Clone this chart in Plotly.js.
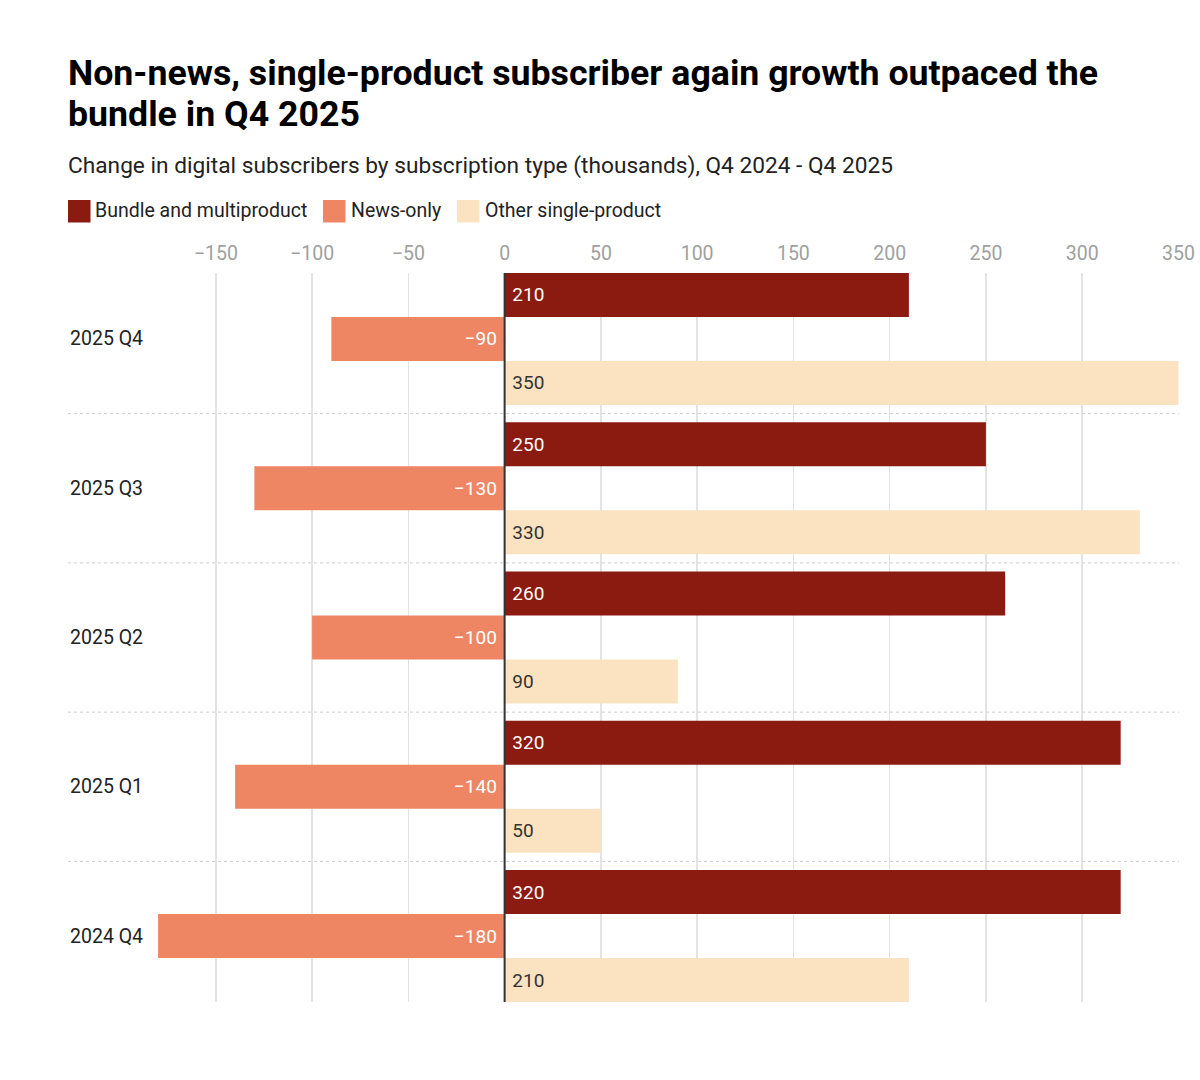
<!DOCTYPE html>
<html>
<head>
<meta charset="utf-8">
<script src="https://cdn.plot.ly/plotly-3.0.1.min.js"></script>
<style>
  html, body { margin: 0; padding: 0; background: #fff; }
  #chart { width: 1200px; height: 1080px; }
</style>
</head>
<body>
<div id="chart"></div>
<script>
// ---- Data ----
const quarters = ["2025 Q4", "2025 Q3", "2025 Q2", "2025 Q1", "2024 Q4"];
const seriesNames = ["Bundle and multiproduct", "News-only", "Other single-product"];
const bundle = [210, 250, 260, 320, 320];
const newsOnly = [-90, -130, -100, -140, -180];
const otherSingle = [350, 330, 90, 50, 210];
const xTicks = [-150, -100, -50, 0, 50, 100, 150, 200, 250, 300, 350];
const titleLines = ["Non-news, single-product subscriber again growth outpaced the", "bundle in Q4 2025"];
const subtitle = "Change in digital subscribers by subscription type (thousands), Q4 2024 - Q4 2025";

// ---- Styles ----
const colors = ["#8B1A11", "#EE8664", "#FBE3C1"];
const textColors = ["#ffffff", "#ffffff", "#333333"];
const FONT = "Roboto, 'Noto Sans', Arial, sans-serif";

function fmt(v) {
  return v < 0 ? "\u2212" + Math.abs(v) + "\u00a0" : "\u00a0" + v;
}

const allSeries = [bundle, newsOnly, otherSingle];
const traces = allSeries.map((vals, i) => ({
  type: "bar",
  orientation: "h",
  name: seriesNames[i],
  y: quarters,
  x: vals,
  marker: { color: colors[i], line: { width: 0 } },
  text: vals.map(fmt),
  textposition: "inside",
  insidetextanchor: "start",
  textangle: 0,
  constraintext: "none",
  insidetextfont: { family: FONT, size: 19, color: textColors[i] },
  hoverinfo: "x+y+name",
  cliponaxis: false
}));

// Plot area geometry (pixels)
const L = 68, R = 1179, T = 273, B = 1002;
const W = R - L, H = B - T;
const px = p => (p - L) / W;
const py = p => (B - p) / H;

const shapes = [];
// dotted separators between categories
for (let k = 0; k < quarters.length - 1; k++) {
  shapes.push({
    type: "line", xref: "paper", yref: "y",
    x0: 0, x1: 1, y0: k + 0.5, y1: k + 0.5,
    line: { color: "#cfcfcf", width: 1, dash: "dot" },
    layer: "above"
  });
}
// zero baseline drawn above the bars
shapes.push({
  type: "line", xref: "x", yref: "paper",
  x0: 0, x1: 0, y0: 0, y1: 1,
  line: { color: "#333333", width: 2 },
  layer: "above"
});
// legend swatches
const legendSw = [[68, 90.5], [323, 345.5], [457, 479.5]];
const legendTx = [95, 351, 485];
legendSw.forEach((s, i) => {
  shapes.push({
    type: "rect", xref: "paper", yref: "paper",
    x0: px(s[0]), x1: px(s[1]), y0: py(222.5), y1: py(200),
    fillcolor: colors[i], line: { width: 0 }
  });
});

const annotations = [];
// title lines
const titleMid = [73.5, 114.5];
titleLines.forEach((t, i) => {
  annotations.push({
    xref: "paper", yref: "paper", x: px(66), y: py(titleMid[i]),
    xanchor: "left", yanchor: "middle", showarrow: false,
    text: "<b>" + t + "</b>",
    font: { family: FONT, size: 35.7, color: "#000" }
  });
});
// subtitle
annotations.push({
  xref: "paper", yref: "paper", x: px(66), y: py(165.5),
  xanchor: "left", yanchor: "middle", showarrow: false,
  text: subtitle,
  font: { family: FONT, size: 22.7, color: "#222" }
});
// legend labels
seriesNames.forEach((n, i) => {
  annotations.push({
    xref: "paper", yref: "paper", x: px(legendTx[i] - 2), y: py(210.5),
    xanchor: "left", yanchor: "middle", showarrow: false,
    text: n, font: { family: FONT, size: 19.5, color: "#222" }
  });
});
// category labels
quarters.forEach(q => {
  annotations.push({
    xref: "paper", yref: "y", x: 0, y: q,
    xanchor: "left", yanchor: "middle", showarrow: false,
    text: q, font: { family: FONT, size: 19.5, color: "#222" }
  });
});

const layout = {
  width: 1200, height: 1080,
  paper_bgcolor: "#ffffff", plot_bgcolor: "#ffffff",
  margin: { l: L, r: 1200 - R, t: T, b: 1080 - B, pad: 0 },
  showlegend: false,
  barmode: "group",
  bargap: 0.116,
  bargroupgap: 0,
  font: { family: FONT },
  xaxis: {
    side: "top",
    range: [-226.8, 350.3],
    tickvals: xTicks,
    ticks: "",
    ticklabelstandoff: 8,
    showgrid: true,
    gridcolor: "#e3e3e3",
    gridwidth: 1.5,
    zeroline: false,
    showline: false,
    tickfont: { family: FONT, size: 19.5, color: "#a0a0a0" },
    fixedrange: true
  },
  yaxis: {
    type: "category",
    categoryorder: "array",
    categoryarray: quarters,
    range: [4.442, -0.442],
    showticklabels: false,
    ticks: "",
    showgrid: false,
    zeroline: false,
    showline: false,
    fixedrange: true
  },
  shapes: shapes,
  annotations: annotations
};

Plotly.newPlot("chart", traces, layout, { displayModeBar: false, staticPlot: true });
</script>
</body>
</html>
